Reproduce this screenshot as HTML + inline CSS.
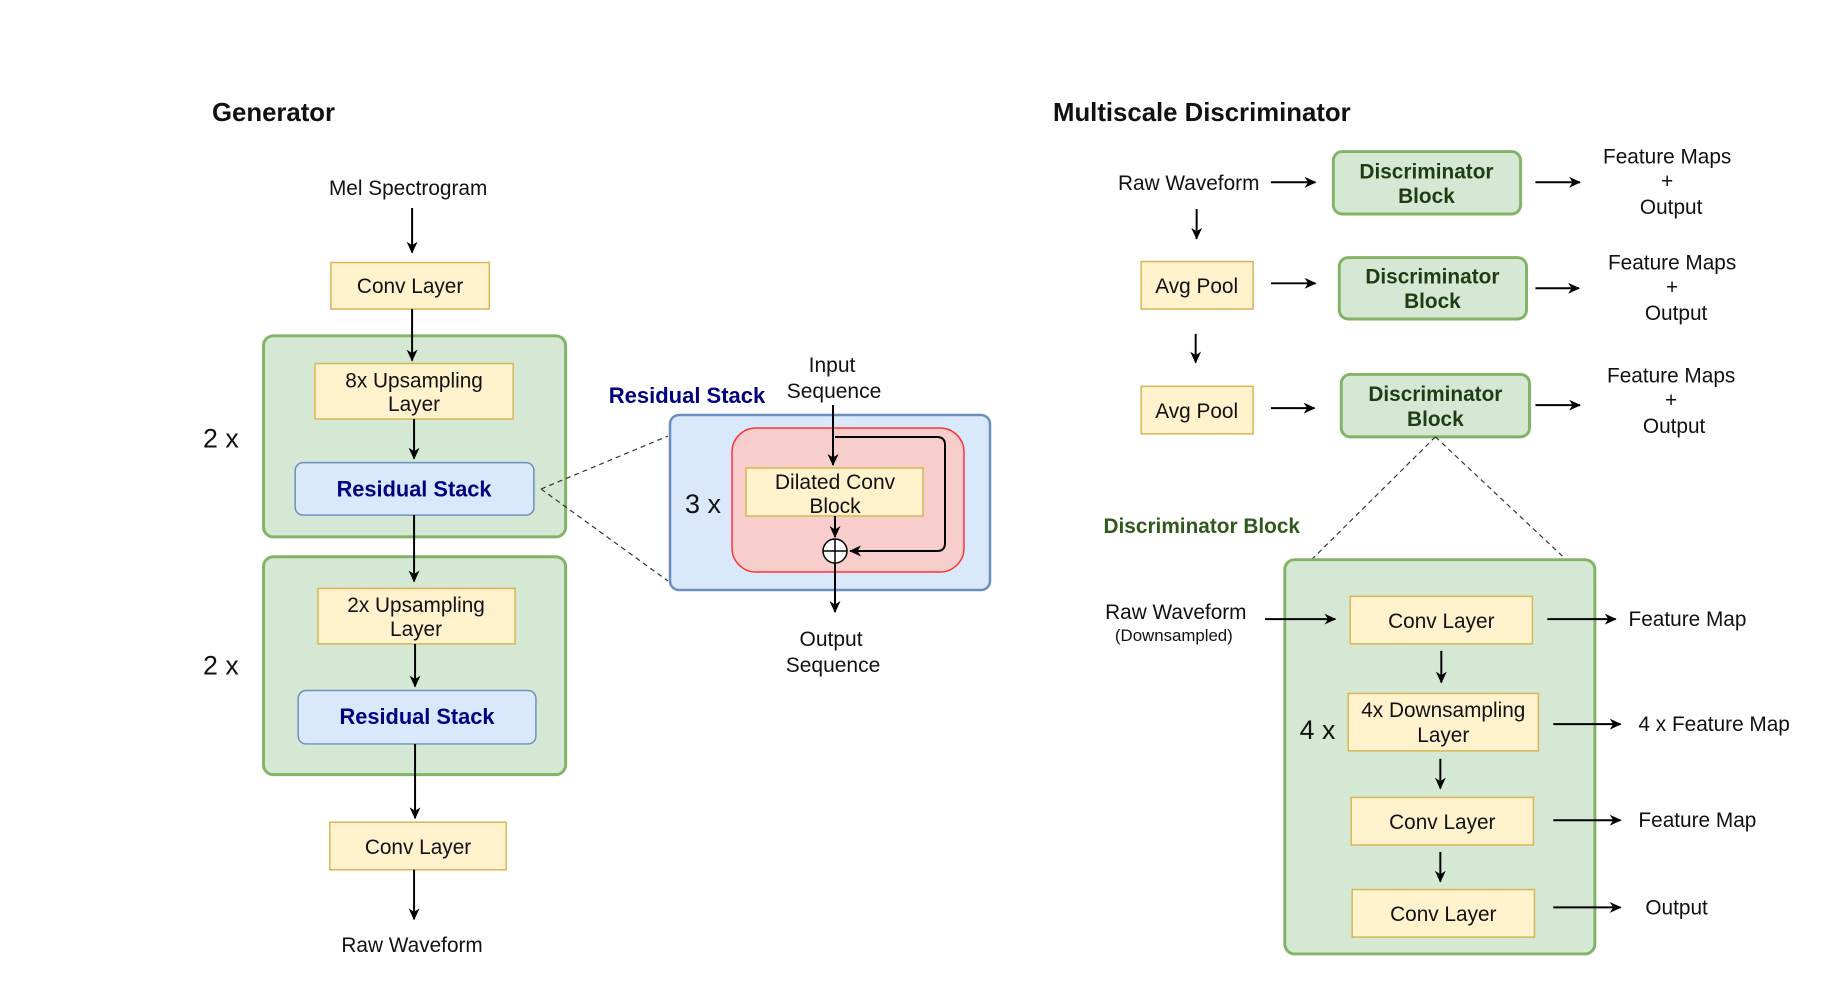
<!DOCTYPE html>
<html><head><meta charset="utf-8"><style>
html,body{margin:0;padding:0;background:#fff;}
svg{display:block;}
text{font-family:"Liberation Sans",Arial,sans-serif;fill:#111;}
</style></head><body>
<svg width="1844" height="986" viewBox="0 0 1844 986" xmlns="http://www.w3.org/2000/svg">
<defs>
<marker id="a" markerWidth="12" markerHeight="12" refX="11" refY="6" orient="auto" markerUnits="userSpaceOnUse">
<path d="M0,0.5 L12,6 L0,11.5 L3.5,6 Z" fill="#000"/></marker>
</defs>
<g font-size="21" text-anchor="middle" transform="scale(0.9906)">
<!-- Generator -->
<text x="214" y="122" font-size="26" font-weight="bold" text-anchor="start">Generator</text>
<text x="412" y="197">Mel Spectrogram</text>
<line x1="416" y1="210" x2="416" y2="255" stroke="#000" stroke-width="2" marker-end="url(#a)"/>
<rect x="334" y="265" width="160" height="47" fill="#fff2cc" stroke="#d6b656" stroke-width="1.5"/>
<text x="414" y="296">Conv Layer</text>
<rect x="266" y="339" width="305" height="203" rx="10" fill="#d5e8d4" stroke="#82b366" stroke-width="3"/>
<line x1="416" y1="312" x2="416" y2="364" stroke="#000" stroke-width="2" marker-end="url(#a)"/>
<rect x="318" y="367" width="200" height="56" fill="#fff2cc" stroke="#d6b656" stroke-width="1.5"/>
<text x="418" y="391">8x Upsampling</text><text x="418" y="415">Layer</text>
<line x1="418" y1="423" x2="418" y2="463" stroke="#000" stroke-width="2" marker-end="url(#a)"/>
<rect x="298" y="467" width="241" height="53" rx="8" fill="#dae8fc" stroke="#6c8ebf" stroke-width="1.5"/>
<text x="418" y="501" font-weight="bold" font-size="22" style="fill:#000080">Residual Stack</text>
<text x="223" y="452" font-size="27" text-anchor="middle">2 x</text>
<rect x="266" y="562" width="305" height="220" rx="10" fill="#d5e8d4" stroke="#82b366" stroke-width="3"/>
<line x1="418" y1="520" x2="418" y2="587" stroke="#000" stroke-width="2" marker-end="url(#a)"/>
<rect x="321" y="594" width="199" height="56" fill="#fff2cc" stroke="#d6b656" stroke-width="1.5"/>
<text x="420" y="618">2x Upsampling</text><text x="420" y="642">Layer</text>
<line x1="419" y1="650" x2="419" y2="693" stroke="#000" stroke-width="2" marker-end="url(#a)"/>
<rect x="301" y="697" width="240" height="54" rx="8" fill="#dae8fc" stroke="#6c8ebf" stroke-width="1.5"/>
<text x="421" y="731" font-weight="bold" font-size="22" style="fill:#000080">Residual Stack</text>
<text x="223" y="681" font-size="27">2 x</text>
<line x1="419" y1="751" x2="419" y2="826" stroke="#000" stroke-width="2" marker-end="url(#a)"/>
<rect x="333" y="830" width="178" height="48" fill="#fff2cc" stroke="#d6b656" stroke-width="1.5"/>
<text x="422" y="862">Conv Layer</text>
<line x1="418" y1="878" x2="418" y2="928" stroke="#000" stroke-width="2" marker-end="url(#a)"/>
<text x="416" y="961">Raw Waveform</text>
<!-- Residual stack detail (absolute coords) -->
<g transform="scale(1.0095)">
<line x1="541" y1="489" x2="668" y2="436" stroke="#333" stroke-width="1.2" stroke-dasharray="5,4"/>
<line x1="541" y1="489" x2="668" y2="581" stroke="#333" stroke-width="1.2" stroke-dasharray="5,4"/>
<text x="687" y="403" font-weight="bold" font-size="22" style="fill:#000080">Residual Stack</text>
<text x="832" y="372">Input</text><text x="834" y="398">Sequence</text>
<rect x="670" y="415" width="320" height="175" rx="9" fill="#dae8fc" stroke="#6c8ebf" stroke-width="2.5"/>
<rect x="732" y="428" width="232" height="144" rx="24" fill="#f8cecc" stroke="#ff3333" stroke-width="1.5"/>
<rect x="746" y="468" width="177" height="48" fill="#fff2cc" stroke="#d6b656" stroke-width="1.5"/>
<text x="835" y="489">Dilated Conv</text><text x="835" y="513">Block</text>
<text x="703" y="513" font-size="27">3 x</text>
<line x1="833" y1="405" x2="833" y2="465" stroke="#000" stroke-width="2" marker-end="url(#a)"/>
<path d="M835,437 H937 Q945,437 945,445 V543 Q945,551 937,551 H850" fill="none" stroke="#000" stroke-width="2" marker-end="url(#a)"/>
<line x1="835" y1="516" x2="835" y2="537" stroke="#000" stroke-width="2" marker-end="url(#a)"/>
<circle cx="835" cy="551" r="12" fill="#fff" stroke="#000" stroke-width="1.5"/>
<line x1="823" y1="551" x2="847" y2="551" stroke="#000" stroke-width="1.5"/>
<line x1="835" y1="539" x2="835" y2="563" stroke="#000" stroke-width="1.5"/>
<line x1="835" y1="563" x2="835" y2="612" stroke="#000" stroke-width="2" marker-end="url(#a)"/>
<text x="831" y="646">Output</text><text x="833" y="672">Sequence</text>
</g>
<!-- Discriminator -->
<text x="1063" y="122" font-size="26" font-weight="bold" text-anchor="start">Multiscale Discriminator</text>
<text x="1200" y="192">Raw Waveform</text>
<line x1="1283" y1="184" x2="1328" y2="184" stroke="#000" stroke-width="2" marker-end="url(#a)"/>
<rect x="1346" y="153" width="189" height="63" rx="9" fill="#d5e8d4" stroke="#82b366" stroke-width="3"/>
<text x="1440" y="180" font-weight="bold" font-size="21" style="fill:#1e3d12">Discriminator</text><text x="1440" y="205" font-weight="bold" style="fill:#1e3d12">Block</text>
<line x1="1550" y1="184" x2="1595" y2="184" stroke="#000" stroke-width="2" marker-end="url(#a)"/>
<text x="1683" y="165">Feature Maps</text><text x="1683" y="190">+</text><text x="1687" y="216">Output</text>
<line x1="1208" y1="211" x2="1208" y2="241" stroke="#000" stroke-width="2" marker-end="url(#a)"/>
<rect x="1152" y="264" width="113" height="48" fill="#fff2cc" stroke="#d6b656" stroke-width="1.5"/>
<text x="1208" y="296">Avg Pool</text>
<line x1="1283" y1="286" x2="1328" y2="286" stroke="#000" stroke-width="2" marker-end="url(#a)"/>
<rect x="1352" y="260" width="189" height="62" rx="9" fill="#d5e8d4" stroke="#82b366" stroke-width="3"/>
<text x="1446" y="286" font-weight="bold" style="fill:#1e3d12">Discriminator</text><text x="1446" y="311" font-weight="bold" style="fill:#1e3d12">Block</text>
<line x1="1550" y1="291" x2="1594" y2="291" stroke="#000" stroke-width="2" marker-end="url(#a)"/>
<text x="1688" y="272">Feature Maps</text><text x="1688" y="297">+</text><text x="1692" y="323">Output</text>
<line x1="1207" y1="337" x2="1207" y2="366" stroke="#000" stroke-width="2" marker-end="url(#a)"/>
<rect x="1152" y="390" width="113" height="48" fill="#fff2cc" stroke="#d6b656" stroke-width="1.5"/>
<text x="1208" y="422">Avg Pool</text>
<line x1="1283" y1="412" x2="1327" y2="412" stroke="#000" stroke-width="2" marker-end="url(#a)"/>
<rect x="1354" y="378" width="190" height="63" rx="9" fill="#d5e8d4" stroke="#82b366" stroke-width="3"/>
<text x="1449" y="405" font-weight="bold" style="fill:#1e3d12">Discriminator</text><text x="1449" y="430" font-weight="bold" style="fill:#1e3d12">Block</text>
<line x1="1550" y1="409" x2="1595" y2="409" stroke="#000" stroke-width="2" marker-end="url(#a)"/>
<text x="1687" y="386">Feature Maps</text><text x="1687" y="411">+</text><text x="1690" y="437">Output</text>
<line x1="1449" y1="441" x2="1325" y2="564" stroke="#333" stroke-width="1.2" stroke-dasharray="5,4"/>
<line x1="1449" y1="441" x2="1580" y2="564" stroke="#333" stroke-width="1.2" stroke-dasharray="5,4"/>
<text x="1114" y="538" font-weight="bold" text-anchor="start" style="fill:#2d5a1b">Discriminator Block</text>
<rect x="1297" y="565" width="313" height="398" rx="10" fill="#d5e8d4" stroke="#82b366" stroke-width="3"/>
<text x="1187" y="625">Raw Waveform</text><text x="1185" y="647" font-size="17">(Downsampled)</text>
<line x1="1277" y1="625" x2="1348" y2="625" stroke="#000" stroke-width="2" marker-end="url(#a)"/>
<rect x="1363" y="602" width="184" height="48" fill="#fff2cc" stroke="#d6b656" stroke-width="1.5"/>
<text x="1455" y="634">Conv Layer</text>
<line x1="1562" y1="625" x2="1631" y2="625" stroke="#000" stroke-width="2" marker-end="url(#a)"/>
<text x="1644" y="632" text-anchor="start">Feature Map</text>
<line x1="1455" y1="657" x2="1455" y2="689" stroke="#000" stroke-width="2" marker-end="url(#a)"/>
<rect x="1361" y="700" width="192" height="58" fill="#fff2cc" stroke="#d6b656" stroke-width="1.5"/>
<text x="1457" y="724">4x Downsampling</text><text x="1457" y="749">Layer</text>
<text x="1330" y="746" font-size="27">4 x</text>
<line x1="1568" y1="731" x2="1636" y2="731" stroke="#000" stroke-width="2" marker-end="url(#a)"/>
<text x="1654" y="738" text-anchor="start">4 x Feature Map</text>
<line x1="1454" y1="766" x2="1454" y2="796" stroke="#000" stroke-width="2" marker-end="url(#a)"/>
<rect x="1364" y="805" width="184" height="48" fill="#fff2cc" stroke="#d6b656" stroke-width="1.5"/>
<text x="1456" y="837">Conv Layer</text>
<line x1="1568" y1="828" x2="1636" y2="828" stroke="#000" stroke-width="2" marker-end="url(#a)"/>
<text x="1654" y="835" text-anchor="start">Feature Map</text>
<line x1="1454" y1="860" x2="1454" y2="890" stroke="#000" stroke-width="2" marker-end="url(#a)"/>
<rect x="1365" y="898" width="184" height="48" fill="#fff2cc" stroke="#d6b656" stroke-width="1.5"/>
<text x="1457" y="930">Conv Layer</text>
<line x1="1568" y1="916" x2="1636" y2="916" stroke="#000" stroke-width="2" marker-end="url(#a)"/>
<text x="1661" y="923" text-anchor="start">Output</text>
</g>
</svg>
</body></html>
